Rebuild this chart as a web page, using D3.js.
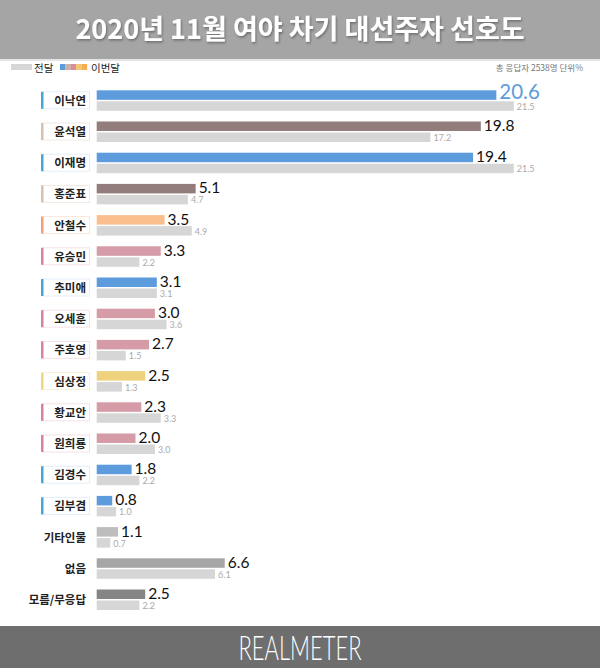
<!DOCTYPE html>
<html><head><meta charset="utf-8">
<script src="https://cdn.jsdelivr.net/npm/d3@7"></script>
<style>html,body{margin:0;padding:0;background:#fff;}svg{display:block;}</style>
</head><body>
<script>
const names = ['이낙연','윤석열','이재명','홍준표','안철수','유승민','추미애','오세훈','주호영','심상정','황교안','원희룡','김경수','김부겸','기타인물','없음','모름/무응답'];
const current = [20.6,19.8,19.4,5.1,3.5,3.3,3.1,3.0,2.7,2.5,2.3,2.0,1.8,0.8,1.1,6.6,2.5];
const previous = [21.5,17.2,21.5,4.7,4.9,2.2,3.1,3.6,1.5,1.3,3.3,3.0,2.2,1.0,0.7,6.1,2.2];
const groups = ['dem','ppp','dem','ppp','plp','ug','dem','ug','ug','jp','ug','ug','dem','dem','etc','none','dk'];
const title = '2020년 11월 여야 차기 대선주자 선호도';
const legendPrev = '전달', legendCur = '이번달';
const note = '총 응답자 2538명  단위%';

const barColor = {dem:'#5d9cdc', ppp:'#927c7c', plp:'#fbbf8e', ug:'#d59ba6', jp:'#eed27e', etc:'#bdbdbd', none:'#a6a6a6', dk:'#858585'};
const lineColor = {dem:'#47a6d2', ppp:'#d8c1ae', plp:'#f4a07e', ug:'#d8839a', jp:'#f0d67c'};
const boxColor = {dem:'#e2eef7', ppp:'#f1e8e1', plp:'#fbe6dc', ug:'#f6e1e6', jp:'#f8f0d6'};
const prevColor = '#d6d6d6';

const W = 600, H = 668;
const svg = d3.select('body').append('svg').attr('width', W).attr('height', H);
const defs = svg.append('defs');
const f = defs.append('filter').attr('id','sh').attr('x','-10%').attr('y','-30%').attr('width','120%').attr('height','160%');
f.append('feDropShadow').attr('dx',1).attr('dy',1.5).attr('stdDeviation',1.2).attr('flood-color','#000').attr('flood-opacity',0.35);

// header
svg.append('rect').attr('x',0).attr('y',0).attr('width',W).attr('height',59).attr('fill','#a5a5a5');
svg.append('rect').attr('x',0).attr('y',59).attr('width',W).attr('height',2).attr('fill','#e4e4e4');
svg.append('text').attr('x',W/2).attr('y',38.5).attr('text-anchor','middle')
  .attr('font-family','"Noto Sans CJK KR","Noto Sans",sans-serif').attr('font-weight',700)
  .attr('font-size',27).attr('fill','#fff').attr('filter','url(#sh)').text(title);

// legend
const lg = svg.append('g');
lg.append('rect').attr('x',11).attr('y',64).attr('width',21).attr('height',6).attr('fill','#d6d6d6');
lg.append('text').attr('x',34).attr('y',71.5).attr('font-family','"Noto Sans CJK KR",sans-serif').attr('font-size',10.5).attr('fill','#222').text(legendPrev);
const legCols = ['#5d9cdc','#cdb2a3','#d88c9c','#f2c772','#f8ad55'];
legCols.forEach((c,i)=>lg.append('rect').attr('x',60+i*5.4).attr('y',64).attr('width',5.5).attr('height',6).attr('fill',c));
lg.append('text').attr('x',91).attr('y',71.5).attr('font-family','"Noto Sans CJK KR",sans-serif').attr('font-size',10.5).attr('fill','#222').text(legendCur);
svg.append('text').attr('x',583).attr('y',70.5).attr('text-anchor','end').attr('font-family','"Noto Sans CJK KR",sans-serif')
  .attr('font-size',8.5).attr('fill','#777').text(note);

// scales
const x = d3.scaleLinear().domain([0, 21.5]).range([96.7, 513.8]);
const y = d3.scaleBand().domain(names).range([84.7, 84.7 + 31.2*names.length]).paddingInner(0);
const data = names.map((n,i)=>({n, c:current[i], p:previous[i], g:groups[i], i}));

const rows = svg.append('g').selectAll('g').data(data).join('g')
  .attr('transform', d=>`translate(0,${y(d.n) + y.bandwidth()/2})`);

// label boxes
rows.filter(d=>lineColor[d.g]).append('rect').attr('x',42.5).attr('y',-8.5).attr('width',47).attr('height',17)
  .attr('fill','#fff').attr('stroke',d=>boxColor[d.g]).attr('stroke-width',1);
rows.filter(d=>lineColor[d.g]).append('rect').attr('x',41).attr('y',-8.5).attr('width',2.5).attr('height',17)
  .attr('fill',d=>lineColor[d.g]);
rows.append('text').attr('x',86).attr('y',4.5).attr('text-anchor','end')
  .attr('font-family','"Noto Sans CJK KR",sans-serif').attr('font-weight',700).attr('font-size',11.5)
  .attr('fill','#222').text(d=>d.n);

// bars
rows.append('rect').attr('x',x(0)).attr('y',-10).attr('height',9.5)
  .attr('width',d=>x(d.c)-x(0)).attr('fill',d=>barColor[d.g]);
rows.append('rect').attr('x',x(0)).attr('y',1).attr('height',9.5)
  .attr('width',d=>x(d.p)-x(0)).attr('fill',prevColor);

// values
rows.append('text').attr('x',d=>x(d.c)+3).attr('y',d=>d.i===0?-1.5:-0.5)
  .attr('font-family','Lato, "DejaVu Sans", sans-serif')
  .attr('font-size',d=>d.i===0?20.5:15.5).attr('fill',d=>d.i===0?'#5d9cdc':'#111')
  .text(d=>d.c.toFixed(1));
rows.append('text').attr('x',d=>x(d.p)+3).attr('y',9.5)
  .attr('font-family','Lato, "DejaVu Sans", sans-serif').attr('font-size',9).attr('fill','#aaa')
  .text(d=>d.p.toFixed(1));

// footer
svg.append('rect').attr('x',0).attr('y',626).attr('width',W).attr('height',H-626).attr('fill','#6e6e6e');
svg.append('text').attr('x',W/2).attr('y',660).attr('text-anchor','middle')
  .attr('font-family','Lato, "Open Sans", sans-serif').attr('font-weight',300).attr('font-size',33)
  .attr('fill','#fff').attr('textLength',123).attr('lengthAdjust','spacingAndGlyphs').text('REALMETER');
</script>
</body></html>
